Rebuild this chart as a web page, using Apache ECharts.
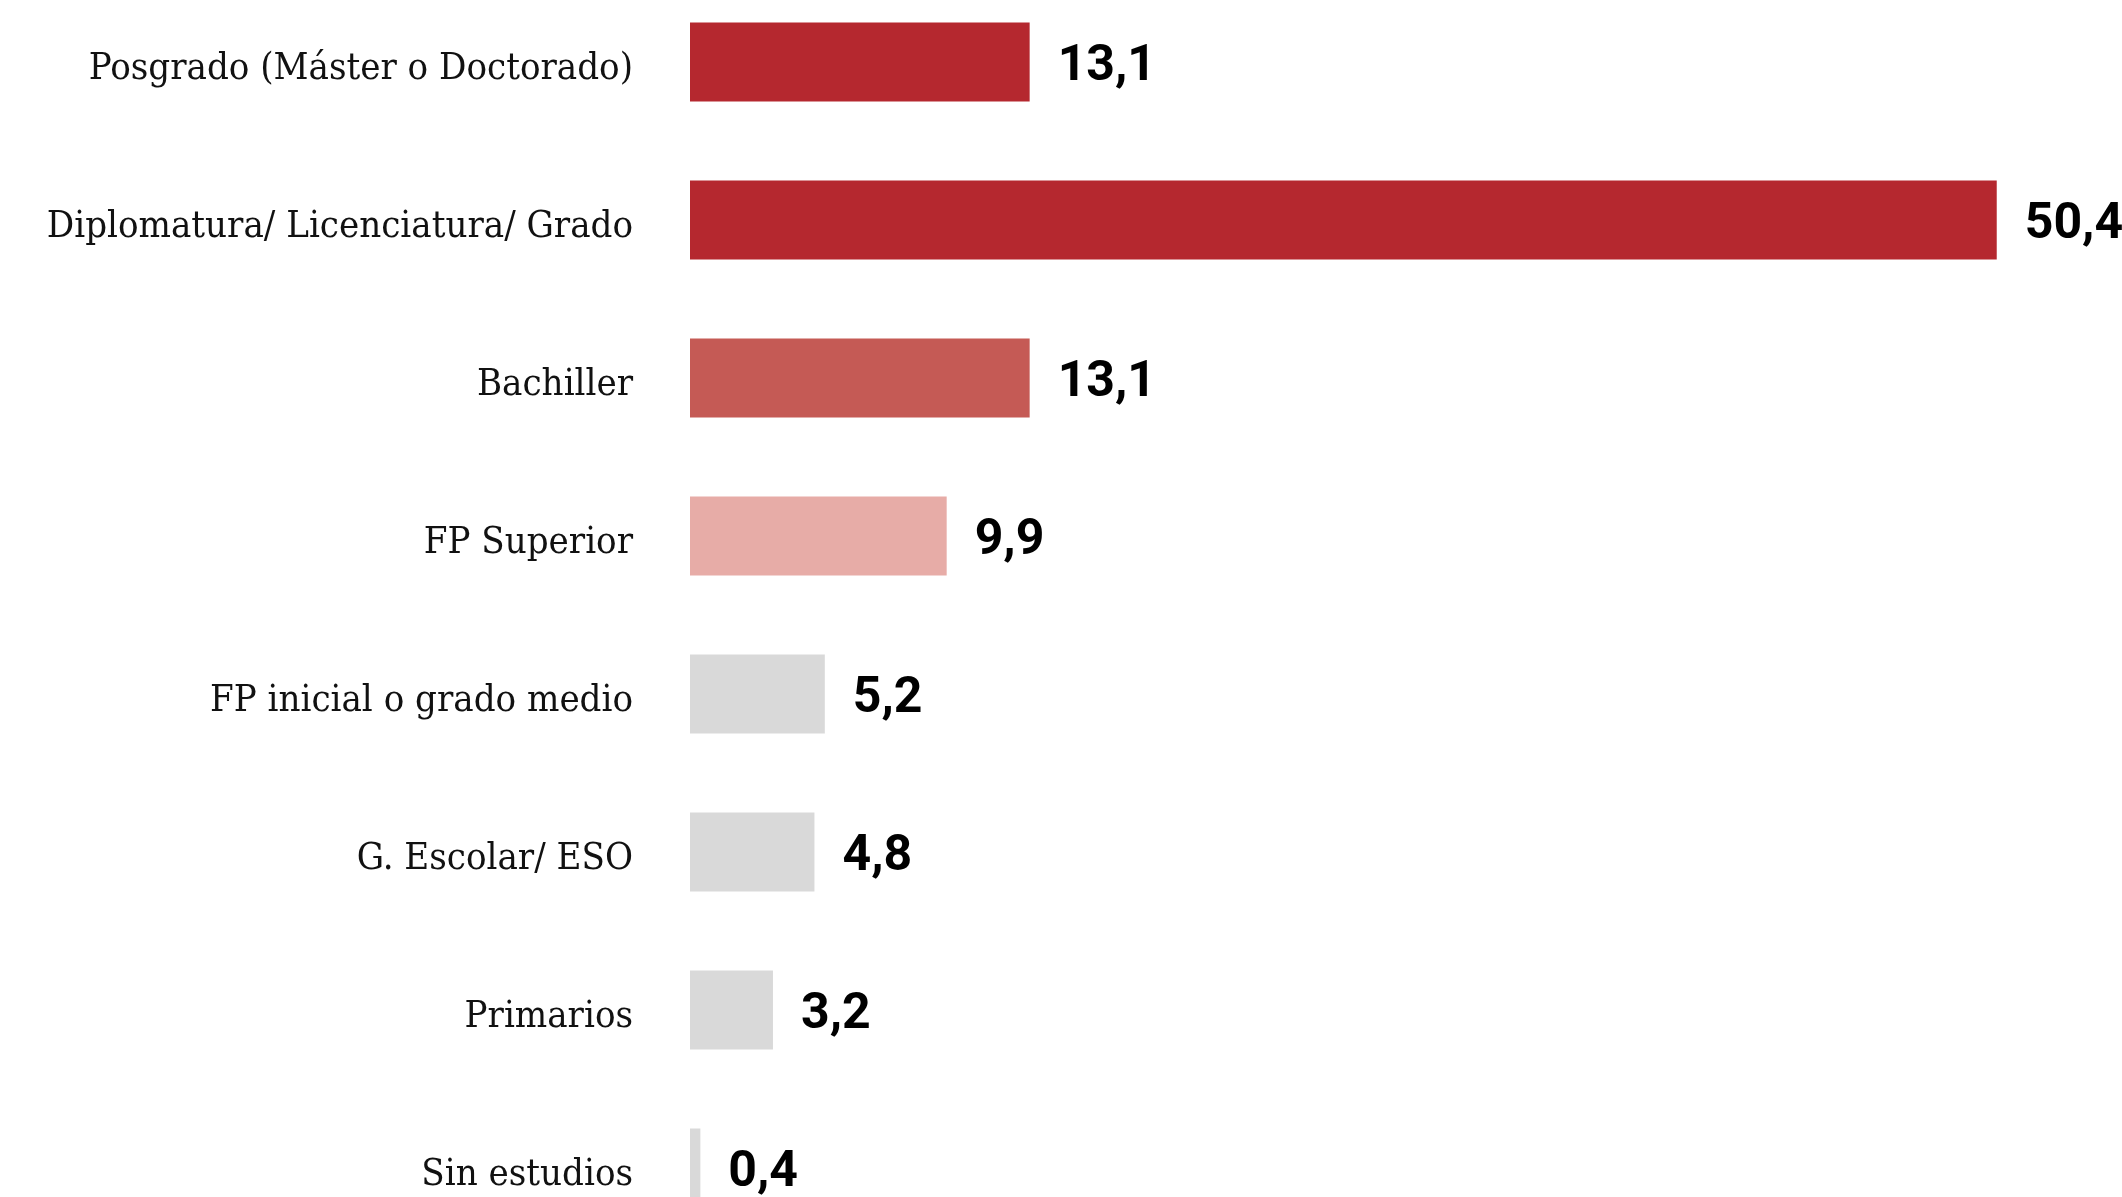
<!DOCTYPE html>
<html>
<head>
<meta charset="utf-8">
<script src="https://cdn.jsdelivr.net/npm/echarts@6/dist/echarts.min.js"></script>
<style>
html,body{margin:0;padding:0;background:#fff;}
#chart{width:2122px;height:1197px;}
</style>
</head>
<body>
<div id="chart"></div>
<script>
const categories = [
  'Posgrado (Máster o Doctorado)',
  'Diplomatura/ Licenciatura/ Grado',
  'Bachiller',
  'FP Superior',
  'FP inicial o grado medio',
  'G. Escolar/ ESO',
  'Primarios',
  'Sin estudios'
];
const values = [13.1, 50.4, 13.1, 9.9, 5.2, 4.8, 3.2, 0.4];
const barColors = ['#b5282f', '#b5282f', '#c55a55', '#e7aca7', '#d9d9d9', '#d9d9d9', '#d9d9d9', '#d9d9d9'];

const chart = echarts.init(document.getElementById('chart'));
chart.setOption({
  animation: false,
  backgroundColor: '#ffffff',
  grid: {
    left: 690,
    top: -17,
    width: 1426,
    height: 1264,
    outerBoundsMode: 'none',
    containLabel: false
  },
  xAxis: {
    type: 'value',
    min: 0,
    max: 55,
    show: false
  },
  yAxis: {
    type: 'category',
    data: categories,
    inverse: true,
    axisLine: { show: false },
    axisTick: { show: false },
    splitLine: { show: false },
    axisLabel: {
      margin: 57,
      formatter: v => '{t|' + v + '}',
      rich: {
        t: {
          fontFamily: 'DejaVu Serif Condensed, DejaVu Serif, serif',
          fontSize: 38,
          color: '#111111',
          padding: [14, 0, 0, 0]
        }
      }
    }
  },
  series: [{
    type: 'bar',
    barWidth: 79,
    data: values.map((v, i) => ({ value: v, itemStyle: { color: barColors[i] } })),
    label: {
      show: true,
      position: 'right',
      distance: 28,
      offset: [0, 5],
      fontFamily: 'Roboto, sans-serif',
      fontWeight: 'bold',
      fontSize: 50,
      color: '#000000',
      formatter: p => String(p.value).replace('.', ',')
    }
  }]
});
</script>
</body>
</html>
